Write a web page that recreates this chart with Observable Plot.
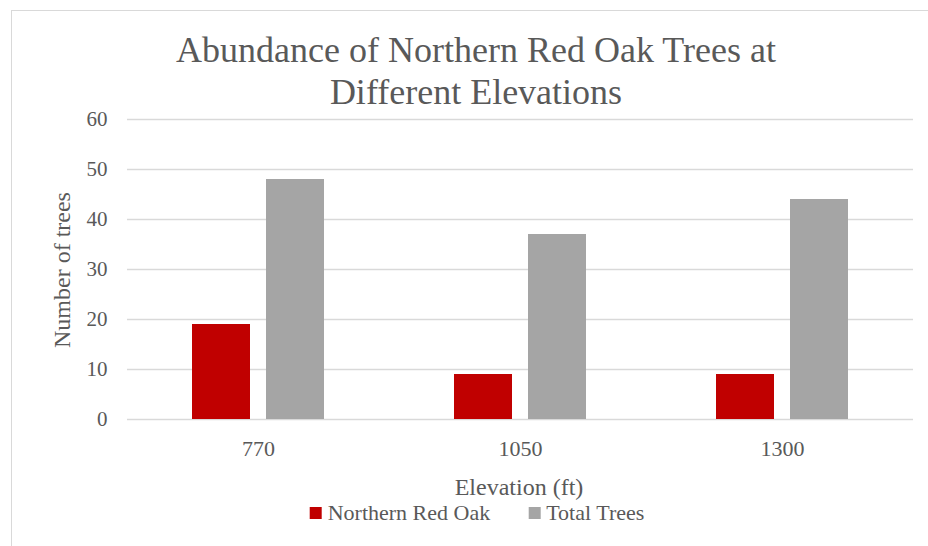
<!DOCTYPE html>
<html>
<head>
<meta charset="utf-8">
<script src="https://cdn.jsdelivr.net/npm/d3@7"></script>
<script src="https://cdn.jsdelivr.net/npm/@observablehq/plot@0.6"></script>
<style>
  html, body { margin: 0; padding: 0; background: #fff; overflow: hidden; }
  #wrap { position: relative; width: 928px; height: 546px; overflow: hidden; font-family: "Liberation Serif", "Times New Roman", Times, "DejaVu Serif", serif; color: #595959; }
  #frame { position: absolute; left: 11px; top: 10px; width: 960px; height: 600px; border: 1px solid #d9d9d9; box-sizing: border-box; }
  #chart { position: absolute; left: 0; top: 0; }
  .abs { position: absolute; white-space: nowrap; }
  #title { left: 0; width: 952px; top: 29px; text-align: center; font-size: 36px; line-height: 42px; }
  #ylabel { left: 62px; top: 270px; font-size: 24px; transform: translate(-50%, -50%) rotate(-90deg); }
  #xlabel { left: 519px; top: 487px; font-size: 24px; transform: translate(-50%, -50%); }
  #legend { left: 477px; top: 513px; font-size: 22px; transform: translate(-50%, -50%); display: flex; align-items: center; }
  .sw { display: inline-block; width: 12px; height: 12px; margin-right: 6px; }
  .item { display: flex; align-items: center; margin: 0 19px; }
</style>
</head>
<body>
<div id="wrap">
  <div id="frame"></div>
  <div id="chart"></div>
  <div id="title" class="abs">Abundance of Northern Red Oak Trees at<br>Different Elevations</div>
  <div id="ylabel" class="abs">Number of trees</div>
  <div id="xlabel" class="abs">Elevation (ft)</div>
  <div id="legend" class="abs"></div>
</div>
<script>
const elevations = [770, 1050, 1300];
const seriesNames = ["Northern Red Oak", "Total Trees"];
const redOak = [19, 9, 9];
const totalTrees = [48, 37, 44];
const yTicks = [0, 10, 20, 30, 40, 50, 60];
const colors = ["#c00000", "#a5a5a5"];

const data = [];
elevations.forEach((e, i) => {
  data.push({elevation: e, series: seriesNames[0], value: redOak[i]});
  data.push({elevation: e, series: seriesNames[1], value: totalTrees[i]});
});

const serif = "'Liberation Serif', 'Times New Roman', Times, 'DejaVu Serif', serif";

const chart = Plot.plot({
  width: 928,
  height: 546,
  marginLeft: 126,
  marginRight: 15,
  marginTop: 119,
  marginBottom: 127,
  style: {fontFamily: serif, fontSize: "21px", color: "#595959", background: "transparent"},
  fx: {domain: elevations, padding: 0, label: null, tickFormat: d => String(d)},
  x: {domain: seriesNames, paddingInner: 0.215, paddingOuter: 0.87, axis: null},
  y: {domain: [0, 60], label: null},
  color: {domain: seriesNames, range: colors},
  marks: [
    Plot.ruleY(yTicks, {stroke: "#d9d9d9", strokeWidth: 1.3}),
    Plot.barY(data, {fx: "elevation", x: "series", y: "value", fill: "series"}),
    Plot.axisY(yTicks, {tickSize: 0, tickPadding: 20, fontSize: 21, label: null}),
    Plot.axisFx({anchor: "bottom", tickSize: 0, tickPadding: 21, fontSize: 22, label: null, tickFormat: d => String(d)})
  ]
});
chart.style.fontFamily = serif;
document.getElementById("chart").appendChild(chart);

const legend = document.getElementById("legend");
seriesNames.forEach((s, i) => {
  const it = document.createElement("div");
  it.className = "item";
  const sw = document.createElement("span");
  sw.className = "sw";
  sw.style.background = colors[i];
  it.appendChild(sw);
  it.appendChild(document.createTextNode(s));
  legend.appendChild(it);
});
</script>
</body>
</html>
